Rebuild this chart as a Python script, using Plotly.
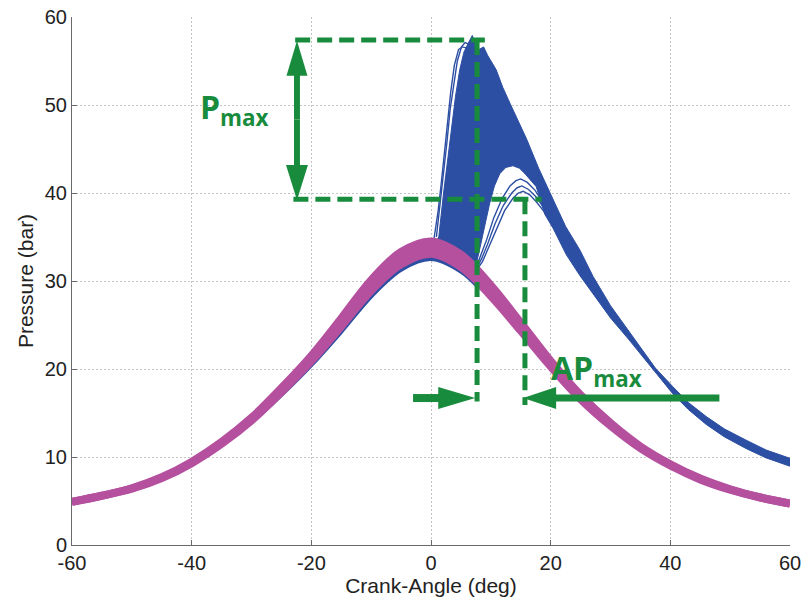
import plotly.graph_objects as go

# ---------------- data ----------------
# crank angle grid for motoring (magenta) bundle
mot_ang = [-60, -55, -50, -45, -40, -35, -30, -25, -20, -15, -10, -5, 0,
           5, 10, 15, 20, 25, 30, 35, 40, 45, 50, 55, 60]
mot_hi = [4.9, 5.6, 6.45, 7.7, 9.45, 11.7, 14.45, 17.83, 21.5, 25.75, 30.1, 33.3, 34.5,
          33.0, 29.5, 25.25, 20.9, 17.03, 13.85, 11.2, 9.18, 7.55, 6.33, 5.4, 4.7]
mot_lo = [4.9, 5.6, 6.4, 7.6, 9.3, 11.5, 14.15, 17.38, 20.9, 24.85, 28.9, 31.9, 33.1,
          31.6, 28.3, 24.35, 20.3, 16.58, 13.55, 11.0, 9.03, 7.45, 6.28, 5.4, 4.7]

# fired cycles: compression part (blue, just under the magenta bundle)
comp_ang = [-60, -55, -50, -45, -40, -35, -30, -25, -20, -15, -10, -5, 0, 5, 8]
comp_p = [4.9, 5.6, 6.4, 7.6, 9.3, 11.5, 14.1, 17.2, 20.6, 24.4, 28.4, 31.4, 32.6, 31.2, 29.4]

# envelope of the dense bundle of fired cycles
env_hi_ang = [0.0, 1.3, 2.1, 2.8, 3.5, 4.1, 4.8, 5.5, 6.2, 6.9, 7.4, 8.0, 8.8, 9.5, 10.9,
              12.0, 13.2, 14.5, 16.0, 18.0, 20.4, 22.5, 24.9, 27.1, 30.0, 32.5, 34.9,
              37.5, 40.4, 43.0, 46.0, 49.0, 52.7, 56.0, 60.0]
env_hi_p = [33.6, 35.0, 40.0, 44.0, 48.0, 51.0, 54.0, 56.0, 57.0, 57.9, 57.0, 56.3, 56.6, 55.6, 54.0,
            52.0, 50.2, 48.2, 46.1, 42.8, 39.2, 36.2, 33.5, 30.5, 27.2, 24.8, 22.5,
            20.1, 18.0, 16.2, 14.6, 13.2, 11.9, 10.8, 9.85]
env_lo_ang = [0.0, 3.0, 5.5, 7.3, 8.0, 8.9, 9.8, 10.6, 11.5, 12.5, 13.7, 14.8, 15.7, 17.6,
              19.0, 20.4, 22.6, 24.9, 27.0, 30.0, 33.0, 36.0, 40.4, 43.0, 46.0, 49.0,
              52.7, 56.0, 60.0]
env_lo_p = [33.0, 32.6, 31.8, 31.2, 33.2, 36.0, 38.8, 40.8, 42.2, 42.9, 43.1, 42.8, 42.2, 40.7,
            37.6, 36.0, 33.0, 30.6, 28.6, 25.8, 23.4, 20.9, 17.2, 15.4, 13.7, 12.3,
            10.95, 9.9, 8.95]

# a few early-burning cycles standing apart on the rising side
early1_ang = [0.5, 1.2, 1.7, 2.3, 2.8, 3.3, 3.9, 4.6, 5.2, 5.9, 6.6]
early1_p = [34.8, 38.0, 41.0, 45.0, 48.5, 51.5, 54.5, 56.3, 56.6, 56.5, 56.0]
early2_ang = [0.9, 1.6, 2.2, 2.7, 3.2, 3.8, 4.4, 5.1, 5.7, 6.4]
early2_p = [35.0, 39.0, 42.5, 46.0, 49.5, 52.5, 55.0, 56.6, 57.1, 56.9]

# slow-burning cycles with low peaks
slow1_ang = [8.0, 8.6, 9.5, 10.9, 12.3, 13.7, 14.6, 15.4, 16.5, 17.6, 19.0, 20.4, 22.0]
slow1_p = [31.6, 32.2, 33.6, 35.9, 38.0, 39.4, 40.0, 40.2, 39.8, 39.0, 37.8, 36.4, 34.2]
slow2_ang = [7.9, 8.5, 9.4, 10.7, 12.1, 13.5, 14.4, 15.2, 16.3, 17.5, 19.0, 20.4]
slow2_p = [31.8, 32.6, 34.1, 36.5, 38.6, 40.0, 40.6, 40.8, 40.4, 39.6, 38.2, 36.8]
slow3_ang = [7.8, 8.4, 9.3, 10.5, 11.9, 13.2, 14.2, 15.0, 16.1, 17.4, 19.0]
slow3_p = [32.0, 33.0, 34.7, 37.2, 39.4, 40.8, 41.4, 41.6, 41.2, 40.3, 38.6]

# annotation geometry (crank angle, bar)
pmax_top = 57.4
pmax_low = 39.3
ca_pmax = 7.7
ca_apmax = 15.7
arrow_level = 16.7

x_ticks = [-60, -40, -20, 0, 20, 40, 60]
x_ticktext = ["-60", "-40", "-20", "0", "20", "40", "60"]
y_ticks = [0, 10, 20, 30, 40, 50, 60]
y_ticktext = ["0", "10", "20", "30", "40", "50", "60"]

# ---------------- styling ----------------
BLUE = "#2c4fa3"
MAGENTA = "#b5509f"
GREEN = "#188c3c"
W, H = 806, 601
ML, MR, MT, MB = 72, 16, 17, 56
XR = [-60, 60]
YR = [0, 60]
PX_X = (W - ML - MR) / (XR[1] - XR[0])
PX_Y = (H - MT - MB) / (YR[1] - YR[0])
FONT = "Liberation Sans, Arial, sans-serif"

fig = go.Figure()

fig.add_trace(go.Scatter(x=comp_ang, y=comp_p, mode="lines",
                         line=dict(color=BLUE, width=6, shape="spline"), hoverinfo="skip"))
fig.add_trace(go.Scatter(x=env_lo_ang, y=env_lo_p, mode="lines",
                         line=dict(color=BLUE, width=1), hoverinfo="skip"))
fig.add_trace(go.Scatter(x=env_hi_ang, y=env_hi_p, mode="lines", fill="tonexty",
                         fillcolor=BLUE, line=dict(color=BLUE, width=1), hoverinfo="skip"))
for xs, ys in [(early1_ang, early1_p), (early2_ang, early2_p),
               (slow1_ang, slow1_p), (slow2_ang, slow2_p), (slow3_ang, slow3_p)]:
    fig.add_trace(go.Scatter(x=xs, y=ys, mode="lines",
                             line=dict(color=BLUE, width=1.4), hoverinfo="skip"))

fig.add_trace(go.Scatter(x=mot_ang, y=mot_lo, mode="lines",
                         line=dict(color=MAGENTA, width=8, shape="spline"), hoverinfo="skip"))
fig.add_trace(go.Scatter(x=mot_ang, y=mot_hi, mode="lines", fill="tonexty", fillcolor=MAGENTA,
                         line=dict(color=MAGENTA, width=8, shape="spline"), hoverinfo="skip"))

# green dashed guide lines
dash = "15px,7px"
guides = [
    ([-22.7, 9.0], [pmax_top, pmax_top]),
    ([-23.0, 18.5], [pmax_low, pmax_low]),
    ([ca_pmax, ca_pmax], [pmax_top, 16.3]),
    ([ca_apmax, ca_apmax], [pmax_low, 15.9]),
]
for xs, ys in guides:
    fig.add_trace(go.Scatter(x=xs, y=ys, mode="lines",
                             line=dict(color=GREEN, width=5, dash=dash), hoverinfo="skip"))

shapes = []


def arrow(tail, tip, head_len=35, head_w=22, shaft=7):
    # work in pixel space to get the head geometry, convert back to data
    dxp = (tip[0] - tail[0]) * PX_X
    dyp = (tip[1] - tail[1]) * PX_Y
    n = (dxp ** 2 + dyp ** 2) ** 0.5
    ux, uy = dxp / n, dyp / n
    bx = tip[0] - ux * head_len / PX_X
    by = tip[1] - uy * head_len / PX_Y
    px, py = -uy, ux
    c1 = (bx + px * head_w / 2 / PX_X, by + py * head_w / 2 / PX_Y)
    c2 = (bx - px * head_w / 2 / PX_X, by - py * head_w / 2 / PX_Y)
    shapes.append(dict(type="path", xref="x", yref="y",
                       path=f"M{tip[0]},{tip[1]} L{c1[0]},{c1[1]} L{c2[0]},{c2[1]} Z",
                       fillcolor=GREEN, line=dict(width=0)))
    sx = bx + ux * 4 / PX_X
    sy = by + uy * 4 / PX_Y
    shapes.append(dict(type="line", xref="x", yref="y", x0=tail[0], y0=tail[1], x1=sx, y1=sy,
                       line=dict(color=GREEN, width=shaft)))


mid = (pmax_top + pmax_low) / 2
arrow((-22.4, mid), (-22.4, pmax_top - 0.1), head_len=35, head_w=21, shaft=6)
arrow((-22.4, mid), (-22.4, pmax_low - 0.1), head_len=35, head_w=22, shaft=6)
arrow((-3.0, arrow_level), (7.4, arrow_level), head_len=37, head_w=22, shaft=8)
arrow((48.2, arrow_level), (15.4, arrow_level), head_len=33, head_w=22, shaft=7)

annots = [
    dict(x=-32.8, y=49.6, text="P<sub>max</sub>"),
    dict(x=27.7, y=19.9, text="AP<sub>max</sub>"),
]
for a in annots:
    fig.add_annotation(x=a["x"], y=a["y"], xref="x", yref="y", text=a["text"], showarrow=False,
                       font=dict(family="Open Sans", size=32, color=GREEN, weight="bold"))

axis_common = dict(showgrid=True, gridcolor="#c4c4c4", griddash="2px,2px", gridwidth=1,
                   showline=True, linecolor="#6a6a6a", linewidth=1, ticks="inside", ticklen=5,
                   tickcolor="#6a6a6a", zeroline=False, mirror=False, automargin=False,
                   tickfont=dict(family=FONT, size=20, color="#222"))

fig.update_layout(
    width=W, height=H, margin=dict(l=ML, r=MR, t=MT, b=MB),
    paper_bgcolor="white", plot_bgcolor="white", showlegend=False, shapes=shapes,
    xaxis=dict(range=XR, tickvals=x_ticks, ticktext=x_ticktext,
               title=dict(text="Crank-Angle (deg)", standoff=2,
                          font=dict(family=FONT, size=21, color="#222")),
               **axis_common),
    yaxis=dict(range=YR, tickvals=y_ticks, ticktext=y_ticktext,
               title=dict(text="Pressure (bar)", standoff=5,
                          font=dict(family=FONT, size=21, color="#222")),
               **axis_common),
)

fig.write_html("out.html")
